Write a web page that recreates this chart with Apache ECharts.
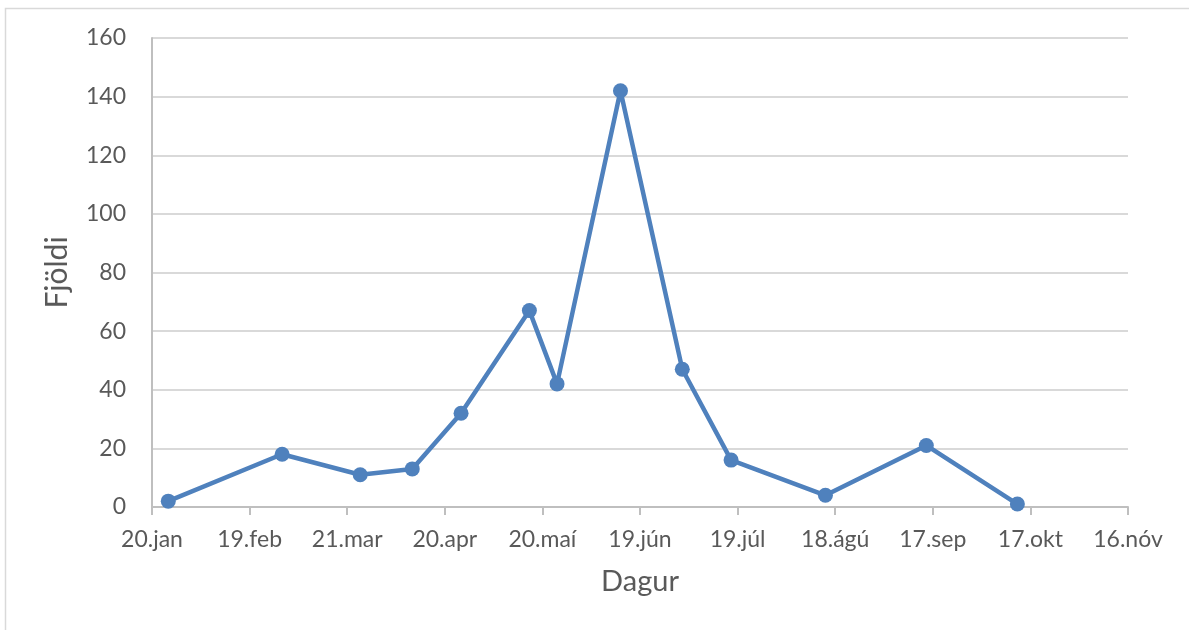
<!DOCTYPE html>
<html>
<head>
<meta charset="utf-8">
<script src="https://cdn.jsdelivr.net/npm/echarts@6/dist/echarts.min.js"></script>
<style>html,body{margin:0;padding:0;background:#fff}#c{width:1189px;height:630px}</style>
</head>
<body>
<div id="c"></div>
<script>
// Days since 20.jan
const days = [5, 40, 64, 80, 95, 116, 124.5, 144, 163, 178, 207, 238, 266];
const counts = [2, 18, 11, 13, 32, 67, 42, 142, 47, 16, 4, 21, 1];
const xTickLabels = ['20.jan', '19.feb', '21.mar', '20.apr', '20.maí', '19.jún', '19.júl', '18.ágú', '17.sep', '17.okt', '16.nóv'];
const xName = 'Dagur';
const yName = 'Fjöldi';

const font = 'Lato, Open Sans, sans-serif';
const chart = echarts.init(document.getElementById('c'));
chart.setOption({
  animation: false,
  backgroundColor: '#fff',
  graphic: [{
    type: 'rect', shape: {x: 5.5, y: 8.5, width: 1200, height: 640},
    style: {fill: 'none', stroke: '#d9d9d9', lineWidth: 1.5}, silent: true
  }],
  grid: {left: 152, right: 61, top: 38, bottom: 123},
  xAxis: {
    type: 'value', min: 0, max: 300, interval: 30,
    name: xName, nameLocation: 'middle', nameGap: 60,
    nameTextStyle: {fontFamily: font, fontSize: 29, color: '#595959'},
    axisLine: {show: true, lineStyle: {color: '#bfbfbf', width: 2}},
    axisTick: {show: true, length: 8, lineStyle: {color: '#bfbfbf', width: 2}},
    splitLine: {show: false},
    axisLabel: {
      margin: 21, fontFamily: font, fontSize: 23, color: '#595959',
      formatter: v => xTickLabels[Math.round(v / 30)] || ''
    }
  },
  yAxis: {
    type: 'value', min: 0, max: 160, interval: 20,
    name: yName, nameLocation: 'middle', nameGap: 80, nameRotate: 90,
    nameTextStyle: {fontFamily: font, fontSize: 30, color: '#595959'},
    axisLine: {show: true, lineStyle: {color: '#bfbfbf', width: 2}},
    axisTick: {show: false},
    splitLine: {show: true, lineStyle: {color: '#d9d9d9', width: 2}},
    axisLabel: {margin: 26, fontFamily: font, fontSize: 23, color: '#595959'}
  },
  series: [{
    type: 'line',
    data: days.map((d, i) => [d, counts[i]]),
    symbol: 'circle', symbolSize: 15,
    lineStyle: {color: '#4f81bd', width: 4.5},
    itemStyle: {color: '#4f81bd'},
    z: 5
  }]
});
</script>
</body>
</html>
